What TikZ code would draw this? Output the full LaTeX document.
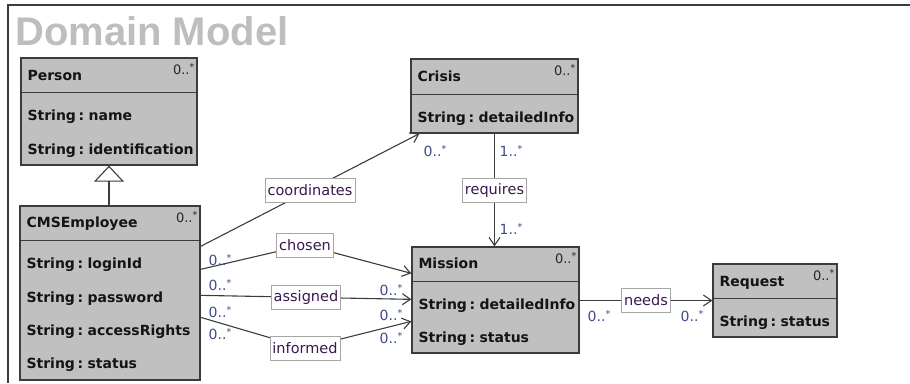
\documentclass[tikz,border=0pt]{standalone}
\usepackage{fontspec}
\setmainfont{DejaVu Sans}
\newfontfamily\titlefont{Liberation Sans}
\newfontfamily\clsfont[WordSpace=0.55]{DejaVu Sans}
\usetikzlibrary{arrows.meta,calc}
\definecolor{boxgray}{HTML}{C0C0C0}
\definecolor{edge}{HTML}{3C3C3C}
\definecolor{lbltext}{HTML}{3A1850}
\definecolor{multtext}{HTML}{3E4C8C}
\definecolor{titlegray}{HTML}{BEBEBE}
\newcommand{\mymult}[1]{#1..\raisebox{4pt}{\fontsize{9.5}{9.5}\selectfont *}}
\begin{document}
\begin{tikzpicture}[x=1pt,y=-1pt,
  cls/.style={draw=edge, line width=1.3pt, fill=boxgray, inner sep=0pt},
  ctext/.style={anchor=base west, inner sep=0pt, font=\clsfont\fontsize{14}{16}\selectfont\bfseries, text=black!92},
  corner/.style={inner sep=0pt, font=\fontsize{13}{15}\selectfont, text=black!85},
  lbl/.style={draw=gray!70, fill=white, line width=0.6pt, inner xsep=2.5pt, inner ysep=0pt, minimum height=24pt, font=\fontsize{14.5}{17}\selectfont, text=lbltext},
  mlt/.style={inner sep=0pt, font=\fontsize{14}{16}\selectfont, text=multtext},
  assoc/.style={draw=edge, line width=1.1pt, -{Straight Barb[length=8pt,width=11pt]}},
  divider/.style={draw=edge, line width=1.3pt},
]
\useasboundingbox (0,0) rectangle (910,383);
% frame
\coordinate (fbl) at (8,383);
\coordinate (ftl) at (8,5);
\coordinate (ftr) at (910,5);
\draw[edge, line width=1.6pt] (fbl) -- (ftl) -- (ftr);
\node[anchor=base west, inner sep=0pt, font=\titlefont\fontsize{40}{44}\selectfont\bfseries, text=titlegray] (title) at (15,45) {Domain Model};

% Person
\node[cls, minimum width=176pt, minimum height=107pt] (person) at (109,111.5) {};
\draw[divider] ($(person.north west)+(0,35)$) -- ($(person.north east)+(0,35)$);
\node[ctext] (p0) at ($(person.north west)+(7,23)$) {Person};
\node[ctext] (p1) at ($(person.north west)+(7,63)$) {String : name};
\node[ctext] (p2) at ($(person.north west)+(7,97)$) {String : identification};
\node[corner] (pc) at ($(person.north east)+(-14,12)$) {\mymult{0}};

% CMSEmployee
\node[cls, minimum width=180pt, minimum height=174pt] (cms) at (110,293) {};
\draw[divider] ($(cms.north west)+(0,35)$) -- ($(cms.north east)+(0,35)$);
\node[ctext] (c0) at ($(cms.north west)+(7,22)$) {CMSEmployee};
\node[ctext] (c1) at ($(cms.north west)+(7,63)$) {String : loginId};
\node[ctext] (c2) at ($(cms.north west)+(7,97)$) {String : password};
\node[ctext] (c3) at ($(cms.north west)+(7,130)$) {String : accessRights};
\node[ctext] (c4) at ($(cms.north west)+(7,163)$) {String : status};
\node[corner] (cc) at ($(cms.north east)+(-14,12)$) {\mymult{0}};

% Crisis
\node[cls, minimum width=167pt, minimum height=74pt] (crisis) at (494.5,96) {};
\draw[divider] ($(crisis.north west)+(0,36)$) -- ($(crisis.north east)+(0,36)$);
\node[ctext] (k0) at ($(crisis.north west)+(7,23)$) {Crisis};
\node[ctext] (k1) at ($(crisis.north west)+(7,64)$) {String : detailedInfo};
\node[corner] (kc) at ($(crisis.north east)+(-14,12)$) {\mymult{0}};

% Mission
\node[cls, minimum width=167pt, minimum height=106pt] (mission) at (495.5,300) {};
\draw[divider] ($(mission.north west)+(0,35)$) -- ($(mission.north east)+(0,35)$);
\node[ctext] (n0) at ($(mission.north west)+(7,22)$) {Mission};
\node[ctext] (n1) at ($(mission.north west)+(7,63)$) {String : detailedInfo};
\node[ctext] (n2) at ($(mission.north west)+(7,96)$) {String : status};
\node[corner] (nc) at ($(mission.north east)+(-14,12)$) {\mymult{0}};

% Request
\node[cls, minimum width=124pt, minimum height=73pt] (request) at (775,300.5) {};
\draw[divider] ($(request.north west)+(0,35)$) -- ($(request.north east)+(0,35)$);
\node[ctext] (r0) at ($(request.north west)+(7,23)$) {Request};
\node[ctext] (r1) at ($(request.north west)+(7,63)$) {String : status};
\node[corner] (rc) at ($(request.north east)+(-14,12)$) {\mymult{0}};

% inheritance
\draw[draw=edge, line width=1.1pt, -{Triangle[open, length=16pt, width=30pt, line width=1.1pt]}] (cms.north -| person.south) -- (person.south);

% associations
\coordinate (coA) at ($(cms.north east)+(0,41)$);
\coordinate (coB) at ($(crisis.south west)+(9,0)$);
\draw[assoc] (coA) -- node[lbl] (lco) {coordinates} (coB);

\draw[assoc] (crisis.south) -- node[lbl] (lrq) {requires} (crisis.south |- mission.north);

\coordinate (chA) at ($(cms.north east)+(0,64)$);
\coordinate (chM) at (305,245);
\coordinate (chB) at ($(mission.north west)+(0,27)$);
\draw[assoc] (chA) -- (chM) node[lbl] (lch) {chosen} -- (chB);

\coordinate (asA) at ($(cms.north east)+(0,90)$);
\coordinate (asB) at ($(mission.north west)+(0,53)$);
\draw[assoc] (asA) -- node[lbl] (las) {assigned} (asB);

\coordinate (inA) at ($(cms.north east)+(0,112)$);
\coordinate (inM) at (305,348);
\coordinate (inB) at ($(mission.north west)+(0,75)$);
\draw[assoc] (inA) -- (inM) node[lbl] (lin) {informed} -- (inB);

\draw[assoc] (request.west -| mission.east) -- node[lbl] (lne) {needs} (request.west);

% multiplicities
\node[mlt] (m1) at (435,151) {\mymult{0}};
\node[mlt] (m2) at (511,151) {\mymult{1}};
\node[mlt] (m3) at (511,229) {\mymult{1}};
\node[mlt] (m4) at (220,260) {\mymult{0}};
\node[mlt] (m5) at (220,285) {\mymult{0}};
\node[mlt] (m6) at (220,312) {\mymult{0}};
\node[mlt] (m7) at (220,334) {\mymult{0}};
\node[mlt] (m8) at (391,290) {\mymult{0}};
\node[mlt] (m9) at (391,315) {\mymult{0}};
\node[mlt] (m10) at (391,338) {\mymult{0}};
\node[mlt] (m11) at (599,316) {\mymult{0}};
\node[mlt] (m12) at (692,316) {\mymult{0}};
\end{tikzpicture}
\end{document}
